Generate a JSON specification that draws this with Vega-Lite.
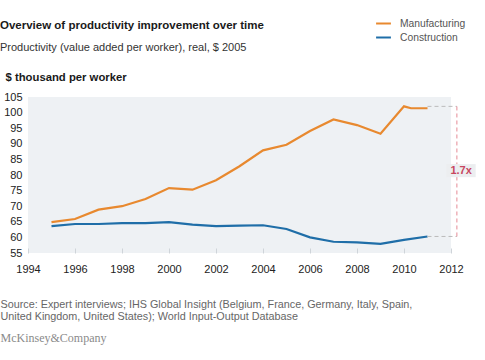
{
  "$schema": "https://vega.github.io/schema/vega-lite/v6.json",
  "width": 423,
  "height": 156,
  "autosize": {"type": "none"},
  "padding": {"left": 28, "top": 97, "right": 34, "bottom": 107},
  "background": "white",
  "config": {
    "font": "Liberation Sans",
    "view": {"fill": "#eef1f4", "stroke": null},
    "axis": {"labelFont": "Liberation Sans", "titleFont": "Liberation Sans"}
  },
  "title": {
    "text": "Overview of productivity improvement over time",
    "subtitle": "Productivity (value added per worker), real, $ 2005",
    "anchor": "start",
    "frame": "group",
    "dx": -28,
    "offset": -38,
    "fontSize": 11.5,
    "fontWeight": "bold",
    "color": "#1a1a1a",
    "subtitleFontSize": 11,
    "subtitleColor": "#333333",
    "subtitlePadding": 11
  },
  "datasets": {
    "series": [
      {"year": 1995, "value": 64.9, "sector": "Manufacturing"},
      {"year": 1996, "value": 65.9, "sector": "Manufacturing"},
      {"year": 1997, "value": 68.9, "sector": "Manufacturing"},
      {"year": 1998, "value": 70.0, "sector": "Manufacturing"},
      {"year": 1999, "value": 72.3, "sector": "Manufacturing"},
      {"year": 2000, "value": 75.8, "sector": "Manufacturing"},
      {"year": 2001, "value": 75.3, "sector": "Manufacturing"},
      {"year": 2002, "value": 78.3, "sector": "Manufacturing"},
      {"year": 2003, "value": 82.8, "sector": "Manufacturing"},
      {"year": 2004, "value": 87.9, "sector": "Manufacturing"},
      {"year": 2005, "value": 89.7, "sector": "Manufacturing"},
      {"year": 2006, "value": 94.1, "sector": "Manufacturing"},
      {"year": 2007, "value": 97.8, "sector": "Manufacturing"},
      {"year": 2008, "value": 96.0, "sector": "Manufacturing"},
      {"year": 2009, "value": 93.2, "sector": "Manufacturing"},
      {"year": 2010, "value": 102.0, "sector": "Manufacturing"},
      {"year": 2010.3, "value": 101.4, "sector": "Manufacturing"},
      {"year": 2011, "value": 101.4, "sector": "Manufacturing"},
      {"year": 1995, "value": 63.6, "sector": "Construction"},
      {"year": 1996, "value": 64.3, "sector": "Construction"},
      {"year": 1997, "value": 64.3, "sector": "Construction"},
      {"year": 1998, "value": 64.6, "sector": "Construction"},
      {"year": 1999, "value": 64.6, "sector": "Construction"},
      {"year": 2000, "value": 64.9, "sector": "Construction"},
      {"year": 2001, "value": 64.1, "sector": "Construction"},
      {"year": 2002, "value": 63.6, "sector": "Construction"},
      {"year": 2003, "value": 63.8, "sector": "Construction"},
      {"year": 2004, "value": 63.9, "sector": "Construction"},
      {"year": 2005, "value": 62.7, "sector": "Construction"},
      {"year": 2006, "value": 60.0, "sector": "Construction"},
      {"year": 2007, "value": 58.6, "sector": "Construction"},
      {"year": 2008, "value": 58.4, "sector": "Construction"},
      {"year": 2009, "value": 57.9, "sector": "Construction"},
      {"year": 2010, "value": 59.2, "sector": "Construction"},
      {"year": 2011, "value": 60.3, "sector": "Construction"}
    ],
    "hrules": [
      {"x": 2011, "x2": 2012.25, "y": 102.0},
      {"x": 2011, "x2": 2012.25, "y": 60.3}
    ],
    "vrule": [
      {"x": 2012.25, "y": 60.3, "y2": 102.0}
    ],
    "label": [
      {"x": 2011.8, "x2": 2013.05, "y": 79.3, "y2": 83.5, "xc": 2012.43, "yc": 81.4, "text": "1.7x"}
    ]
  },
  "resolve": {"scale": {"y": "independent"}},
  "layer": [
    {
      "data": {"name": "series"},
      "mark": {"type": "line", "strokeWidth": 2.2},
      "encoding": {
        "x": {
          "field": "year", "type": "quantitative",
          "scale": {"domain": [1994, 2012], "nice": false, "zero": false},
          "axis": {
            "values": [1994, 1996, 1998, 2000, 2002, 2004, 2006, 2008, 2010, 2012],
            "format": "d", "grid": false, "domain": false, "labelFlush": false, "labelOverlap": false,
            "tickColor": "#cfd4d9", "tickSize": -5, "labelPadding": 15,
            "labelFontSize": 11, "labelColor": "#222222",
            "title": ["Source: Expert interviews; IHS Global Insight (Belgium, France, Germany, Italy, Spain,", "United Kingdom, United States); World Input-Output Database"],
            "titleX": -28, "titleY": 45, "titleAlign": "left", "titleBaseline": "top", "titleAnchor": "start",
            "titleFontSize": 10.8, "titleFontWeight": "normal", "titleColor": "#666666", "titleLineHeight": 12
          }
        },
        "y": {
          "field": "value", "type": "quantitative",
          "scale": {"domain": [55, 105], "nice": false, "zero": false},
          "axis": {
            "values": [55, 60, 65, 70, 75, 80, 85, 90, 95, 100, 105],
            "grid": false, "domain": false, "ticks": false, "labelPadding": 6, "labelFlush": false,
            "labelFontSize": 11, "labelColor": "#222222",
            "title": "$ thousand per worker",
            "titleAngle": 0, "titleX": -23, "titleY": -20, "titleAlign": "left", "titleBaseline": "middle",
            "titleFontSize": 11.3, "titleFontWeight": "bold", "titleColor": "#1a1a1a"
          }
        },
        "color": {
          "field": "sector", "type": "nominal",
          "scale": {"domain": ["Manufacturing", "Construction"], "range": ["#e8892f", "#1f6ea8"]},
          "legend": {
            "orient": "none", "legendX": 347, "legendY": -82, "title": null,
            "symbolType": "stroke", "symbolStrokeWidth": 2, "symbolSize": 220,
            "labelFontSize": 10.3, "labelColor": "#555555", "labelOffset": 8, "rowPadding": 0
          }
        }
      }
    },
    {
      "data": {"name": "hrules"},
      "mark": {"type": "rule", "strokeDash": [4, 3], "color": "#bbbbbb", "strokeWidth": 1},
      "encoding": {
        "x": {"field": "x", "type": "quantitative", "scale": {"domain": [1994, 2012], "nice": false}},
        "x2": {"field": "x2"},
        "y": {"field": "y", "type": "quantitative", "scale": {"domain": [55, 105], "nice": false, "zero": false}, "axis": null}
      }
    },
    {
      "data": {"name": "vrule"},
      "mark": {"type": "rule", "strokeDash": [4, 3], "color": "#e58a96", "strokeWidth": 1},
      "encoding": {
        "x": {"field": "x", "type": "quantitative", "scale": {"domain": [1994, 2012], "nice": false}},
        "y": {"field": "y", "type": "quantitative", "scale": {"domain": [55, 105], "nice": false, "zero": false}, "axis": null},
        "y2": {"field": "y2"}
      }
    },
    {
      "data": {"name": "label"},
      "mark": {"type": "rect", "color": "#eceef0"},
      "encoding": {
        "x": {"field": "x", "type": "quantitative", "scale": {"domain": [1994, 2012], "nice": false}},
        "x2": {"field": "x2"},
        "y": {"field": "y", "type": "quantitative", "scale": {"domain": [55, 105], "nice": false, "zero": false}, "axis": null},
        "y2": {"field": "y2"}
      }
    },
    {
      "data": {"name": "label"},
      "mark": {"type": "text", "fontSize": 11, "fontWeight": "bold", "color": "#c8475f"},
      "encoding": {
        "x": {"field": "xc", "type": "quantitative", "scale": {"domain": [1994, 2012], "nice": false}},
        "y": {
          "field": "yc", "type": "quantitative",
          "scale": {"domain": [55, 105], "nice": false, "zero": false},
          "axis": {
            "orient": "right", "labels": false, "ticks": false, "domain": false, "grid": false,
            "title": "McKinsey&Company",
            "titleAngle": 0, "titleX": -451, "titleY": 240, "titleAlign": "left", "titleBaseline": "middle",
            "titleFont": "Liberation Serif", "titleFontSize": 12, "titleFontWeight": "normal", "titleColor": "#8a8a8a"
          }
        },
        "text": {"field": "text", "type": "nominal"}
      }
    }
  ]
}
